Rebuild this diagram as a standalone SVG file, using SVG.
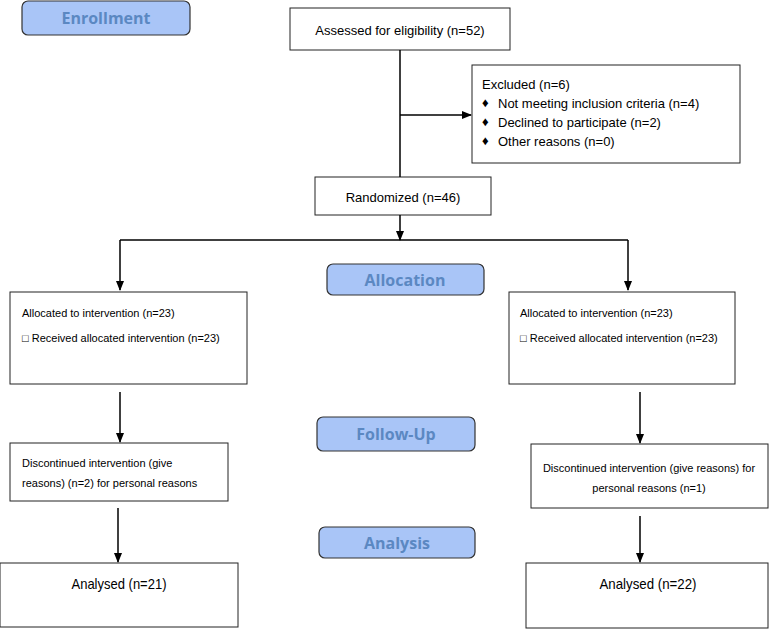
<svg xmlns="http://www.w3.org/2000/svg" width="769" height="629" viewBox="0 0 769 629">
<defs>
<marker id="ah" markerWidth="10" markerHeight="10" refX="9" refY="5" orient="auto" markerUnits="userSpaceOnUse"><path d="M0,1 L10,5 L0,9 z" fill="#000"/></marker>
<style>
.box{fill:#fff;stroke:#222;stroke-width:1}
.stage{fill:#a9c5f7;stroke:#333;stroke-width:1.2}
.st{font-family:"Open Sans",sans-serif;font-weight:bold;font-size:16px;fill:#5b88c2;text-anchor:middle}
.t{font-family:"Liberation Sans",Arial,sans-serif;font-size:13px;fill:#000}
.s{font-family:"Liberation Sans",Arial,sans-serif;font-size:11px;fill:#000}
.a{font-family:"Liberation Sans",Arial,sans-serif;font-size:15px;fill:#000;text-anchor:middle}
.c{text-anchor:middle}
.ln{stroke:#000;stroke-width:1.5;fill:none}
</style>
</defs>
<g id="enrollment"><rect class="stage" x="22" y="1" width="168" height="34" rx="6"/><text class="st" x="106" y="24">Enrollment</text></g>
<g id="allocation"><rect class="stage" x="327" y="264" width="157" height="31" rx="6"/><text class="st" x="405" y="286">Allocation</text></g>
<g id="followup"><rect class="stage" x="317" y="417" width="158" height="34" rx="6"/><text class="st" x="396" y="440">Follow-Up</text></g>
<g id="analysis"><rect class="stage" x="319" y="527" width="156" height="31" rx="6"/><text class="st" x="397" y="549">Analysis</text></g>
<g id="assessed"><rect class="box" x="290" y="8" width="220" height="42"/><text class="t c" x="400" y="35">Assessed for eligibility (n=52)</text></g>
<g id="excluded"><rect class="box" x="472" y="65" width="268" height="98"/>
<text class="t" x="482" y="89">Excluded (n=6)</text>
<text class="t" x="482" y="107" font-size="9">♦</text><text class="t" x="498" y="108">Not meeting inclusion criteria (n=4)</text>
<text class="t" x="482" y="126" font-size="9">♦</text><text class="t" x="498" y="127">Declined to participate (n=2)</text>
<text class="t" x="482" y="145" font-size="9">♦</text><text class="t" x="498" y="146">Other reasons (n=0)</text></g>
<g id="randomized"><rect class="box" x="315" y="177" width="176" height="38"/><text class="t c" x="403" y="202">Randomized (n=46)</text></g>
<g id="alloc-left"><rect class="box" x="10" y="292" width="237" height="92"/>
<text class="s" x="22" y="317">Allocated to intervention (n=23)</text>
<text class="s" x="22" y="342">□ Received allocated intervention (n=23)</text></g>
<g id="alloc-right"><rect class="box" x="509" y="292" width="226" height="92"/>
<text class="s" x="520" y="317">Allocated to intervention (n=23)</text>
<text class="s" x="520" y="342">□ Received allocated intervention (n=23)</text></g>
<g id="disc-left"><rect class="box" x="10" y="443" width="218" height="58"/>
<text class="s" x="22" y="467">Discontinued intervention (give</text>
<text class="s" x="22" y="487">reasons) (n=2) for personal reasons</text></g>
<g id="disc-right"><rect class="box" x="531" y="444" width="237" height="64"/>
<text class="s c" x="649" y="472">Discontinued intervention (give reasons) for</text>
<text class="s c" x="649" y="492">personal reasons (n=1)</text></g>
<g id="analysed-left"><rect class="box" x="0" y="563" width="238" height="64"/><text class="a" x="119" y="589" textLength="95" lengthAdjust="spacingAndGlyphs">Analysed (n=21)</text></g>
<g id="analysed-right"><rect class="box" x="526" y="563" width="242" height="65"/><text class="a" x="648" y="589" textLength="97" lengthAdjust="spacingAndGlyphs">Analysed (n=22)</text></g>
<g id="connectors">
<line class="ln" x1="400" y1="50" x2="400" y2="177"/>
<line class="ln" x1="400" y1="115" x2="471" y2="115" marker-end="url(#ah)"/>
<line class="ln" x1="400" y1="215" x2="400" y2="240" marker-end="url(#ah)"/>
<line class="ln" x1="120" y1="240" x2="628" y2="240"/>
<line class="ln" x1="120" y1="240" x2="120" y2="290" marker-end="url(#ah)"/>
<line class="ln" x1="628" y1="240" x2="628" y2="290" marker-end="url(#ah)"/>
<line class="ln" x1="120" y1="392" x2="120" y2="442" marker-end="url(#ah)"/>
<line class="ln" x1="640" y1="392" x2="640" y2="443" marker-end="url(#ah)"/>
<line class="ln" x1="118" y1="508" x2="118" y2="562" marker-end="url(#ah)"/>
<line class="ln" x1="640" y1="516" x2="640" y2="562" marker-end="url(#ah)"/>
</g>
</svg>
